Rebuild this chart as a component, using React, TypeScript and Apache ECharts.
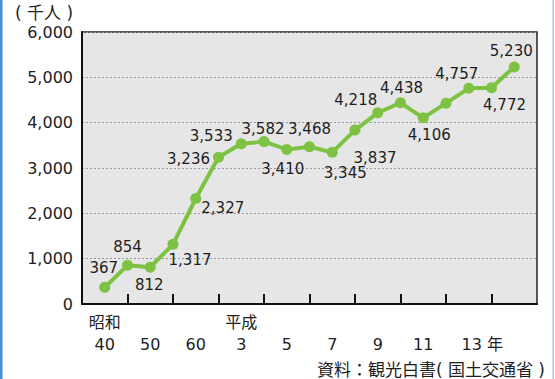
import React, { useEffect, useRef } from 'react';
import * as echarts from 'echarts';

// Visitor counts (thousand people) per plotted year
const values: number[] = [
  367, 854, 812, 1317, 2327, 3236, 3533, 3582, 3410, 3468,
  3345, 3837, 4218, 4438, 4106, 4430, 4757, 4772, 5230,
];

// Tick labels for the 21 axis slots (first and last slot stay empty)
const xLabels: string[] = [
  '', '昭和\n40', '', '\n50', '', '\n60', '', '平成\n3', '', '\n5', '',
  '\n7', '', '\n9', '', '\n11', '', '\n13 年', '', '', '',
];

const yTicks: number[] = [0, 1000, 2000, 3000, 4000, 5000, 6000];

// Where each value label sits relative to its point (null = no label)
const labelOffsets: ([number, number] | null)[] = [
  [-1, -19], [0, -18], [-1, 18], [17, 16], [27, 9], [-30, 2], [-30, -8],
  [-1, -13], [-4, 20], [0, -18], [13, 21], [20, 28], [-22, -13], [1, -15],
  [6, 17], null, [-12, -14], [13, 17], [-3, -16],
];

const unitText = '( 千人 )';
const sourceText = '資料：観光白書( 国土交通省 )';

const FONT = "'DejaVu Sans', 'Noto Sans CJK JP', sans-serif";
const GREEN = '#7dc242';
const INK = '#1e1e1e';

const fmt = (v: number) => v.toLocaleString('en-US');

export default function App() {
  const ref = useRef<HTMLDivElement>(null);

  useEffect(() => {
    if (!ref.current) return;
    const chart = echarts.init(ref.current, null, { renderer: 'svg' });

    const slotKeys = xLabels.map((_, i) => String(i));
    const seriesData: any[] = ['-'];
    values.forEach((v, i) => {
      const off = labelOffsets[i];
      seriesData.push({
        value: v,
        label: off ? { show: true, offset: off } : { show: false },
      });
    });
    seriesData.push('-');

    chart.setOption({
      animation: false,
      grid: {
        left: 82,
        top: 32,
        right: 18,
        bottom: 75,
        show: true,
        backgroundColor: '#e6e6e6',
        borderColor: '#222',
        borderWidth: 1.5,
      },
      xAxis: {
        type: 'category',
        boundaryGap: false,
        data: slotKeys,
        axisLine: { show: true, lineStyle: { color: '#111', width: 2 } },
        axisTick: {
          show: true,
          inside: true,
          length: 10,
          interval: (i: number) => i % 2 === 0 && i > 0 && i < xLabels.length - 1,
          lineStyle: { color: '#111', width: 2 },
        },
        axisLabel: {
          interval: (i: number) => xLabels[i] !== '',
          formatter: (_v: string, i: number) => {
            const t = xLabels[i];
            if (t.indexOf('年') >= 0) {
              const parts = t.split('\n');
              return parts[0] + '\n{shift|' + parts[1] + '}';
            }
            return t;
          },
          margin: 7,
          lineHeight: 22,
          fontSize: 16,
          fontFamily: FONT,
          color: INK,
          rich: {
            shift: {
              fontSize: 16,
              fontFamily: FONT,
              color: INK,
              lineHeight: 22,
              padding: [0, 0, 0, 27],
            },
          },
        },
        splitLine: { show: false },
      },
      yAxis: {
        type: 'value',
        min: yTicks[0],
        max: yTicks[yTicks.length - 1],
        interval: yTicks[1] - yTicks[0],
        axisLine: { show: true, lineStyle: { color: '#111', width: 2 } },
        axisTick: { show: false },
        axisLabel: {
          formatter: (v: number) => fmt(v),
          fontSize: 16,
          fontFamily: FONT,
          color: INK,
          margin: 9,
          padding: [4, 0, 0, 0],
        },
        splitLine: {
          show: true,
          lineStyle: { color: '#999', width: 1, type: [2, 2] },
        },
      },
      series: [
        {
          type: 'line',
          data: seriesData,
          symbol: 'circle',
          symbolSize: 11,
          color: GREEN,
          lineStyle: { color: GREEN, width: 4 },
          itemStyle: { color: GREEN },
          label: {
            show: true,
            position: 'inside',
            formatter: (p: any) => fmt(p.value),
            fontSize: 15,
            fontFamily: FONT,
            color: INK,
          },
        },
      ],
      graphic: [
        {
          type: 'rect',
          left: 0,
          top: 0,
          shape: { width: 2.5, height: 379 },
          style: { fill: '#4a8ed4' },
        },
        {
          type: 'rect',
          left: 552.5,
          top: 0,
          shape: { width: 1.5, height: 379 },
          style: { fill: '#a8c8ea' },
        },
        {
          type: 'text',
          x: 15,
          y: 13,
          style: {
            text: unitText,
            fontSize: 17,
            fontFamily: FONT,
            fill: INK,
            verticalAlign: 'middle',
            align: 'left',
          },
        },
        {
          type: 'text',
          x: 545,
          y: 370,
          style: {
            text: sourceText,
            fontSize: 17,
            fontFamily: FONT,
            fill: INK,
            verticalAlign: 'middle',
            align: 'right',
          },
        },
      ],
    });

    return () => chart.dispose();
  }, []);

  return (
    <div
      ref={ref}
      style={{
        position: 'fixed',
        left: 0,
        top: 0,
        width: 555,
        height: 379,
        background: '#fff',
      }}
    />
  );
}
